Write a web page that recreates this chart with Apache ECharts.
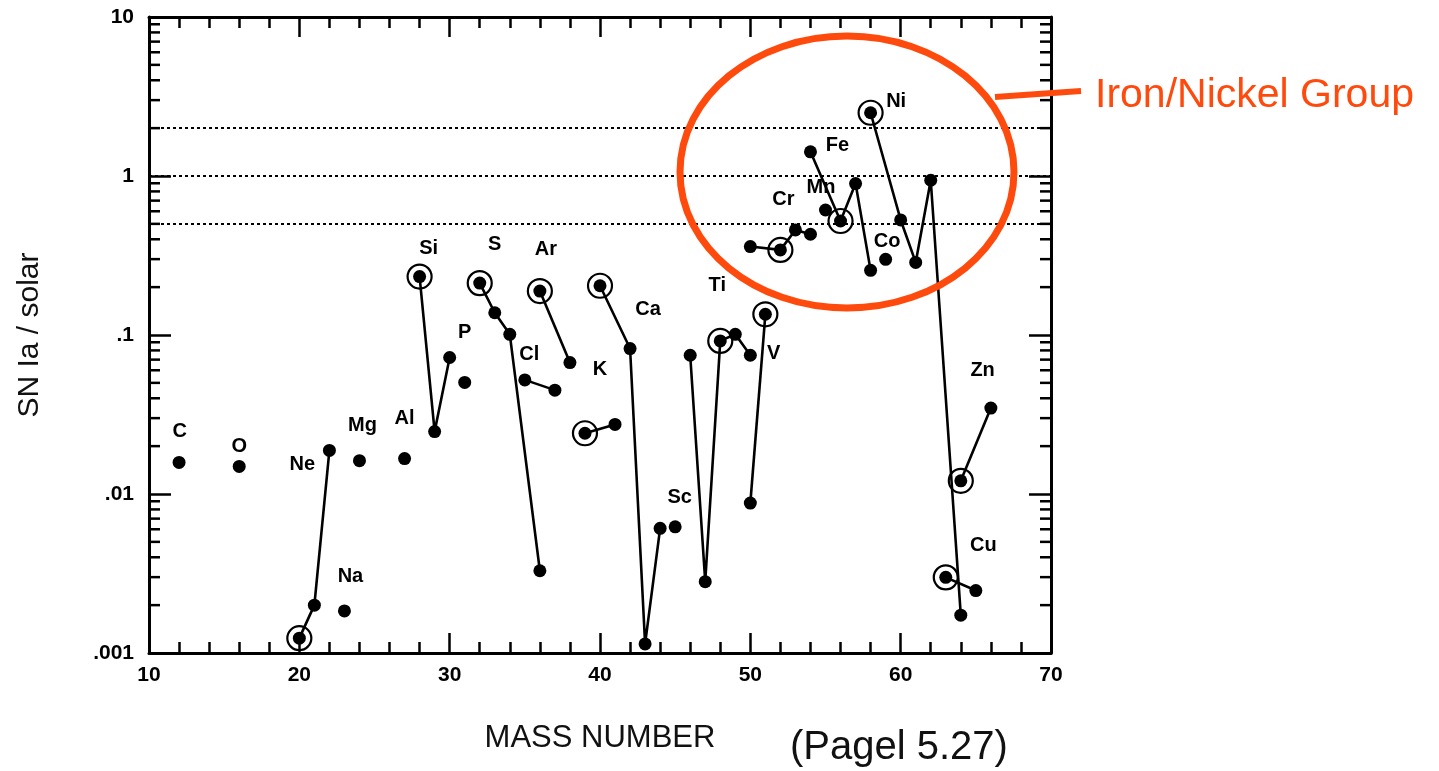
<!DOCTYPE html>
<html>
<head>
<meta charset="utf-8">
<title>SN Ia / solar</title>
<script src="https://cdn.jsdelivr.net/npm/echarts@6/dist/echarts.min.js"></script>
<style>
  html, body { margin: 0; padding: 0; background: #fff; }
  #main { width: 1439px; height: 771px; }
</style>
</head>
<body>
<div id="main"></div>
<script>
// isotopes: [mass number, SN Ia / solar]; each array is one connected chain
const neon = [[20, 0.00124], [21, 0.0020], [22, 0.0188]];
const silicon = [[28, 0.233], [29, 0.0247], [30, 0.0722]];
const sulfur = [[32, 0.212], [33, 0.138], [34, 0.101], [36, 0.00329]];
const chlorine = [[35, 0.0522], [37, 0.045]];
const argon = [[36, 0.189], [38, 0.0671]];
const potassium = [[39, 0.0241], [41, 0.0274]];
const calcium = [[40, 0.204], [42, 0.0822], [43, 0.00114], [44, 0.00608]];
const titanium = [[46, 0.0746], [47, 0.00281], [48, 0.0918], [49, 0.101], [50, 0.0746]];
const vanadium = [[50, 0.00877], [51, 0.135]];
const chromium = [[50, 0.36], [52, 0.343], [53, 0.458], [54, 0.43]];
const iron = [[54, 1.42], [56, 0.521], [57, 0.896], [58, 0.255]];
const nickel = [[58, 2.5], [60, 0.529], [61, 0.286], [62, 0.94], [64, 0.00173]];
const copper = [[63, 0.00299], [65, 0.00247]];
const zinc = [[64, 0.0121], [66, 0.0347]];
// single isotopes: C, O, Na, Mg, Al, P, Sc, Mn, Co
const singles = [[12, 0.0158], [16, 0.0149], [23, 0.00184], [24, 0.0162], [27, 0.0167],
  [31, 0.0503], [45, 0.00622], [55, 0.611], [59, 0.299]];

// dominant isotope of each element (ringed)
const circled = [neon[0], silicon[0], sulfur[0], argon[0], potassium[0], calcium[0],
  titanium[2], vanadium[1], chromium[1], iron[1], nickel[0], copper[0], zinc[0]];

// element names and where they sit (mass, ratio)
const elementLabels = [
  ['C', 12.05, 0.0249], ['O', 16, 0.0199], ['Ne', 20.2, 0.0154], ['Na', 23.4, 0.00303],
  ['Mg', 24.2, 0.0268], ['Al', 27, 0.0299], ['Si', 28.6, 0.35], ['P', 31, 0.103],
  ['S', 33, 0.372], ['Cl', 35.3, 0.0757], ['Ar', 36.4, 0.346], ['K', 40, 0.061],
  ['Ca', 43.2, 0.145], ['Sc', 45.3, 0.00952], ['Ti', 47.8, 0.204], ['V', 51.55, 0.0768],
  ['Cr', 52.2, 0.714], ['Mn', 54.7, 0.845], ['Fe', 55.8, 1.545], ['Co', 59.1, 0.39],
  ['Ni', 59.7, 2.96], ['Zn', 65.45, 0.0595], ['Cu', 65.5, 0.00477]
];

const refLevels = [0.5, 1, 2];
const xMin = 10, xMax = 70;
const yTickLabels = ['.001', '.01', '.1', '1', '10'];

const FONT = "'Liberation Sans', Arial, Helvetica, sans-serif";
const ORANGE = '#ff4a0d';

const chart = echarts.init(document.getElementById('main'));

function chainSeries(name, pts) {
  return {
    name: name,
    type: 'line',
    data: pts,
    symbol: 'circle',
    symbolSize: 13,
    lineStyle: { color: '#000', width: 2.6 },
    itemStyle: { color: '#000', opacity: 1 },
    silent: true,
    z: 3
  };
}

// log minor ticks at 2..9 of each decade, drawn on both sides
const minorTicks = [];
for (let e = -3; e < 1; e++) {
  for (let m = 2; m <= 9; m++) minorTicks.push([xMin, m * Math.pow(10, e)]);
}

const chains = { Ne: neon, Si: silicon, S: sulfur, Cl: chlorine, Ar: argon, K: potassium,
  Ca: calcium, Ti: titanium, V: vanadium, Cr: chromium, Fe: iron, Ni: nickel, Cu: copper, Zn: zinc };

const series = Object.keys(chains).map(k => chainSeries(k, chains[k]));

series.push({
  name: 'singles',
  type: 'scatter',
  data: singles,
  symbolSize: 13,
  itemStyle: { color: '#000', opacity: 1 },
  silent: true,
  z: 3
});

series.push({
  name: 'rings',
  type: 'scatter',
  data: circled,
  symbol: 'circle',
  symbolSize: 24,
  itemStyle: { color: 'rgba(0,0,0,0)', borderColor: '#000', borderWidth: 2.2, opacity: 1 },
  silent: true,
  z: 4
});

series.push({
  name: 'labels',
  type: 'scatter',
  data: elementLabels.map(d => ({ name: d[0], value: [d[1], d[2]] })),
  symbolSize: 1,
  itemStyle: { color: 'rgba(0,0,0,0)', opacity: 1 },
  label: {
    show: true,
    position: 'inside',
    formatter: p => p.name,
    color: '#000',
    fontFamily: FONT,
    fontWeight: 'bold',
    fontSize: 20
  },
  silent: true,
  z: 5
});

series.push({
  name: 'minorTicks',
  type: 'custom',
  data: minorTicks,
  silent: true,
  renderItem: function (params, api) {
    const v = api.value(1);
    const l = api.coord([xMin, v]);
    const r = api.coord([xMax, v]);
    const st = { stroke: '#000', lineWidth: 2.5 };
    return {
      type: 'group',
      children: [
        { type: 'line', shape: { x1: l[0], y1: l[1], x2: l[0] + 11, y2: l[1] }, style: st },
        { type: 'line', shape: { x1: r[0] - 11, y1: r[1], x2: r[0], y2: r[1] }, style: st }
      ]
    };
  },
  z: 2
});

// dotted reference levels
series.push({
  name: 'ref',
  type: 'line',
  data: [],
  markLine: {
    silent: true,
    symbol: 'none',
    label: { show: false },
    lineStyle: { color: '#000', width: 2.2, type: [3, 3] },
    data: refLevels.map(v => ({ yAxis: v }))
  },
  z: 1
});

const axisLineStyle = { lineStyle: { color: '#000', width: 3 } };

const option = {
  animation: false,
  backgroundColor: '#fff',
  grid: { left: 149, right: 388, top: 17, bottom: 118 },
  xAxis: [
    {
      type: 'value',
      min: xMin,
      max: xMax,
      interval: 10,
      name: 'MASS NUMBER',
      nameLocation: 'middle',
      nameGap: 70,
      nameTextStyle: { fontFamily: FONT, fontSize: 31, color: '#111' },
      axisLine: axisLineStyle,
      axisTick: { inside: true, length: 20, lineStyle: { color: '#000', width: 2.5 } },
      minorTick: { show: true, splitNumber: 5, length: 11, lineStyle: { color: '#000', width: 2.5 } },
      axisLabel: { margin: 12, fontFamily: FONT, fontWeight: 'bold', fontSize: 21, color: '#000' },
      splitLine: { show: false }
    },
    {
      type: 'value',
      position: 'top',
      min: xMin,
      max: xMax,
      interval: 10,
      axisLine: axisLineStyle,
      axisTick: { inside: true, length: 20, lineStyle: { color: '#000', width: 2.5 } },
      minorTick: { show: true, splitNumber: 5, length: 11, lineStyle: { color: '#000', width: 2.5 } },
      axisLabel: { show: false },
      splitLine: { show: false }
    }
  ],
  yAxis: [
    {
      type: 'log',
      logBase: 10,
      min: 0.001,
      max: 10,
      name: 'SN Ia / solar',
      nameLocation: 'middle',
      nameGap: 104,
      nameTextStyle: { fontFamily: FONT, fontSize: 30, color: '#111' },
      axisLine: axisLineStyle,
      axisTick: { inside: true, length: 22, lineStyle: { color: '#000', width: 2.5 } },
      axisLabel: {
        margin: 15,
        fontFamily: FONT,
        fontWeight: 'bold',
        fontSize: 21,
        color: '#000',
        formatter: v => yTickLabels[Math.round(Math.log10(v)) + 3]
      },
      splitLine: { show: false }
    },
    {
      type: 'log',
      logBase: 10,
      min: 0.001,
      max: 10,
      position: 'right',
      axisLine: axisLineStyle,
      axisTick: { inside: true, length: 22, lineStyle: { color: '#000', width: 2.5 } },
      axisLabel: { show: false },
      splitLine: { show: false }
    }
  ],
  graphic: [
    {
      type: 'ellipse',
      shape: { cx: 847, cy: 172, rx: 167, ry: 136 },
      style: { fill: 'none', stroke: ORANGE, lineWidth: 7 },
      z: 100
    },
    {
      type: 'line',
      shape: { x1: 995, y1: 97, x2: 1081, y2: 91 },
      style: { stroke: ORANGE, lineWidth: 6 },
      z: 100
    },
    {
      type: 'text',
      x: 1095,
      y: 96,
      style: { text: 'Iron/Nickel Group', font: '41px ' + FONT, fill: ORANGE, textAlign: 'left', textVerticalAlign: 'middle' },
      z: 100
    },
    {
      type: 'text',
      x: 790,
      y: 748,
      style: { text: '(Pagel 5.27)', font: '40px ' + FONT, fill: '#111', textAlign: 'left', textVerticalAlign: 'middle' },
      z: 100
    }
  ],
  series: series
};

chart.setOption(option);
</script>
</body>
</html>
